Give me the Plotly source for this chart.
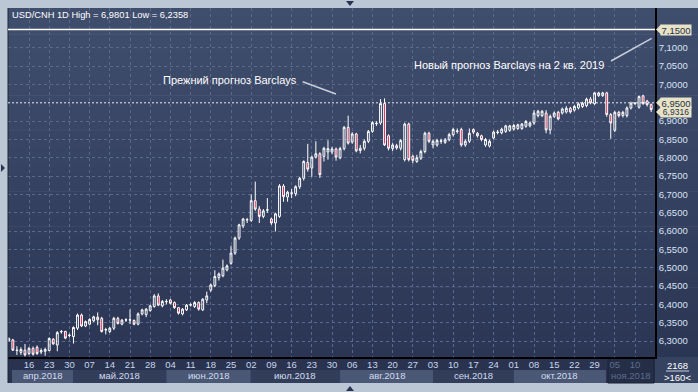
import plotly.graph_objects as go

# ---------------- data (trading-day index 0 = 2018-04-09) ----------------
opens = [6.301,6.303,6.274,6.269,6.275,6.266,6.280,6.283,6.270,6.272,
         6.274,6.305,6.289,6.325,6.326,6.315,6.312,6.335,6.371,6.341,
         6.346,6.355,6.358,6.362,6.330,6.326,6.335,6.362,6.346,6.357,
         6.357,6.356,6.346,6.374,6.372,6.383,6.394,6.423,6.396,6.407,
         6.412,6.405,6.391,6.374,6.385,6.398,6.394,6.405,6.385,6.412,
         6.439,6.451,6.473,6.478,6.494,6.512,6.540,6.581,6.614,6.630,
         6.629,6.683,6.660,6.640,6.657,6.633,6.622,6.640,6.723,6.693,
         6.703,6.702,6.721,6.744,6.787,6.772,6.802,6.811,6.804,6.816,
         6.816,6.824,6.800,6.825,6.883,6.843,6.865,6.820,6.826,6.845,
         6.872,6.893,6.895,6.948,6.860,6.825,6.833,6.826,6.795,6.892,
         6.804,6.790,6.799,6.817,6.867,6.835,6.835,6.845,6.842,6.849,
         6.863,6.872,6.877,6.835,6.845,6.877,6.867,6.860,6.835,6.832,
         6.854,6.869,6.868,6.872,6.875,6.878,6.880,6.880,6.886,6.887,
         6.895,6.915,6.915,6.922,6.876,6.913,6.924,6.922,6.925,6.935,
         6.930,6.936,6.940,6.942,6.960,6.948,6.970,6.970,6.977,6.918,
         6.875,6.924,6.915,6.915,6.936,6.948,6.938,6.969,6.955,6.945]
highs = [6.310,6.306,6.286,6.283,6.292,6.284,6.285,6.288,6.280,6.282,
         6.310,6.308,6.327,6.330,6.328,6.320,6.340,6.375,6.375,6.356,
         6.362,6.369,6.378,6.366,6.336,6.338,6.366,6.366,6.360,6.362,
         6.386,6.359,6.378,6.388,6.390,6.399,6.428,6.430,6.412,6.414,
         6.415,6.408,6.393,6.390,6.401,6.403,6.409,6.408,6.417,6.435,
         6.457,6.493,6.487,6.522,6.509,6.560,6.585,6.620,6.636,6.636,
         6.700,6.735,6.668,6.660,6.690,6.637,6.650,6.728,6.728,6.710,
         6.715,6.725,6.748,6.793,6.838,6.806,6.845,6.815,6.830,6.848,
         6.830,6.828,6.830,6.887,6.915,6.870,6.868,6.835,6.850,6.876,
         6.900,6.900,6.960,6.962,6.864,6.840,6.838,6.851,6.896,6.896,
         6.808,6.808,6.822,6.871,6.871,6.850,6.852,6.852,6.854,6.868,
         6.882,6.880,6.882,6.850,6.880,6.880,6.870,6.863,6.854,6.850,
         6.874,6.876,6.882,6.890,6.890,6.892,6.893,6.895,6.903,6.899,
         6.930,6.931,6.930,6.930,6.918,6.926,6.928,6.937,6.941,6.939,
         6.944,6.951,6.953,6.964,6.966,6.980,6.980,6.980,6.9801,6.922,
         6.928,6.928,6.928,6.940,6.953,6.952,6.970,6.972,6.958,6.948]
lows = [6.298,6.273,6.262,6.262,6.258,6.261,6.260,6.262,6.264,6.260,
        6.272,6.290,6.272,6.320,6.305,6.310,6.293,6.330,6.338,6.338,
        6.343,6.352,6.343,6.323,6.318,6.322,6.330,6.345,6.343,6.352,
        6.346,6.343,6.343,6.370,6.365,6.380,6.391,6.395,6.392,6.400,
        6.400,6.388,6.372,6.370,6.382,6.394,6.390,6.383,6.382,6.403,
        6.434,6.447,6.465,6.474,6.490,6.508,6.535,6.576,6.608,6.622,
        6.625,6.655,6.622,6.635,6.650,6.617,6.599,6.636,6.680,6.680,
        6.690,6.695,6.715,6.738,6.762,6.748,6.798,6.745,6.790,6.795,
        6.810,6.792,6.796,6.820,6.836,6.838,6.815,6.812,6.820,6.840,
        6.868,6.887,6.890,6.832,6.820,6.818,6.822,6.820,6.790,6.790,
        6.785,6.786,6.794,6.812,6.840,6.826,6.830,6.838,6.838,6.845,
        6.858,6.866,6.830,6.830,6.840,6.865,6.855,6.845,6.830,6.828,
        6.850,6.864,6.864,6.868,6.871,6.874,6.876,6.876,6.882,6.883,
        6.890,6.910,6.911,6.867,6.864,6.909,6.902,6.918,6.921,6.921,
        6.926,6.932,6.936,6.938,6.946,6.944,6.966,6.966,6.912,6.852,
        6.870,6.910,6.910,6.910,6.932,6.944,6.934,6.944,6.940,6.925]
closes = [6.307,6.275,6.275,6.277,6.262,6.280,6.264,6.266,6.274,6.277,
          6.307,6.292,6.323,6.326,6.308,6.316,6.337,6.371,6.341,6.353,
          6.359,6.366,6.365,6.326,6.331,6.335,6.362,6.348,6.357,6.358,
          6.358,6.346,6.374,6.385,6.387,6.396,6.423,6.398,6.408,6.408,
          6.403,6.391,6.376,6.387,6.398,6.399,6.405,6.387,6.414,6.423,
          6.453,6.476,6.483,6.499,6.505,6.540,6.581,6.617,6.633,6.631,
          6.683,6.660,6.640,6.655,6.658,6.622,6.647,6.723,6.694,6.706,
          6.704,6.721,6.744,6.790,6.769,6.802,6.811,6.754,6.826,6.825,
          6.824,6.802,6.825,6.883,6.840,6.865,6.819,6.826,6.845,6.872,
          6.896,6.894,6.948,6.835,6.826,6.835,6.827,6.847,6.892,6.795,
          6.793,6.800,6.817,6.867,6.845,6.845,6.847,6.846,6.849,6.863,
          6.877,6.873,6.835,6.845,6.867,6.870,6.860,6.850,6.850,6.845,
          6.870,6.870,6.878,6.887,6.887,6.888,6.890,6.892,6.899,6.895,
          6.922,6.927,6.927,6.876,6.913,6.922,6.906,6.933,6.935,6.925,
          6.940,6.947,6.949,6.960,6.950,6.977,6.977,6.977,6.918,6.895,
          6.924,6.915,6.924,6.936,6.949,6.949,6.967,6.948,6.945,6.9316]

tick_idx = list(range(5, 160, 5))
tick_text = ["16","23","30","07","14","21","28","04","11","18","25","02","09",
             "16","23","30","06","13","20","27","03","10","17","24","01","08",
             "15","22","29","05","10"]
months = ["апр.2018","май.2018","июн.2018","июл.2018","авг.2018","сен.2018","окт.2018","ноя.2018"]
month_start_idx = [-0.8, 15.9, 39, 59.9, 82, 105, 125, 148.3]
month_end_idx = [15.9, 39, 59.9, 82, 105, 125, 147.8, 160]

y_ticks = [6.30,6.35,6.40,6.45,6.50,6.55,6.60,6.65,6.70,6.75,6.80,6.85,6.90,7.00,7.05,7.10]
prev_target = 6.95
new_target = 7.15
last_close = closes[-1]

# ---------------- geometry helpers ----------------
W, H = 698, 392
L, R, T, B = 8, 655, 8, 357
PW, PH = R - L, B - T
XMIN, XMAX = -0.2, 159.95
YMIN, YMAX = 6.2564, 7.2087
FONT = "Liberation Sans, Arial"

def px(x):
    return (x - L) / PW

def py(y):
    return (B - y) / PH

def ix2px(i):
    return L + (i - XMIN) / (XMAX - XMIN) * PW

def vy(v):
    return T + (YMAX - v) / (YMAX - YMIN) * PH

def fmt(v):
    return f"{v:.4f}".replace(".", ",")

fig = go.Figure()
fig.add_trace(go.Candlestick(
    x=list(range(len(opens))), open=opens, high=highs, low=lows, close=closes,
    increasing=dict(line=dict(color="#ffffff", width=1), fillcolor="rgba(0,0,0,0)"),
    decreasing=dict(line=dict(color="#ffffff", width=1), fillcolor="#d8153e"),
    whiskerwidth=0, showlegend=False, hoverinfo="skip"))

shapes = []
# gradient background over plot + right axis area
N = 40
top_c, bot_c = (64, 78, 110), (43, 54, 84)
for k in range(N):
    t = k / (N - 1)
    c = tuple(int(round(top_c[j] + (bot_c[j] - top_c[j]) * t)) for j in range(3))
    y0 = T + k * PH / N
    y1 = T + (k + 1) * PH / N + 0.6
    shapes.append(dict(type="rect", xref="paper", yref="paper", layer="below",
                       x0=px(L), x1=px(W), y0=py(y1), y1=py(y0),
                       fillcolor="rgb(%d,%d,%d)" % c, line=dict(width=0)))
# bottom axis area
shapes.append(dict(type="rect", xref="paper", yref="paper", layer="below",
                   x0=px(L), x1=px(R), y0=py(383), y1=py(B),
                   fillcolor="#29334f", line=dict(width=0)))
# month bands
for k, (a, b) in enumerate(zip(month_start_idx, month_end_idx)):
    x0 = max(ix2px(a), 12)
    x1 = min(ix2px(b), R - 1)
    if k == len(months) - 1:
        shapes.append(dict(type="rect", xref="paper", yref="paper", layer="below",
                           x0=px(x0), x1=px(x1), y0=py(383), y1=py(358),
                           fillcolor="#252e47", line=dict(color="#1c2238", width=1)))
    else:
        col = "#4a5775" if k % 2 == 0 else "#323d5a"
        shapes.append(dict(type="rect", xref="paper", yref="paper", layer="below",
                           x0=px(x0), x1=px(x1), y0=py(383), y1=py(370),
                           fillcolor=col, line=dict(width=0)))
# bottom-right box
shapes.append(dict(type="rect", xref="paper", yref="paper", layer="below",
                   x0=px(R), x1=px(W), y0=py(383), y1=py(B),
                   fillcolor="#364360", line=dict(width=0)))
shapes.append(dict(type="line", xref="paper", yref="paper",
                   x0=px(666), x1=px(689), y0=py(371), y1=py(371),
                   line=dict(color="#c8d2e4", width=1)))
# left border of plot
shapes.append(dict(type="line", xref="paper", yref="paper",
                   x0=px(L), x1=px(L), y0=py(383), y1=py(T),
                   line=dict(color="#1e2438", width=1)))
# frame triangles
for pts in [[(346, 1), (354, 1), (350, 6)], [(346, 391), (354, 391), (350, 386)], [(1, 164), (1, 172), (5, 168)]]:
    path = "M " + " L ".join("%.5f,%.5f" % (px(a), py(b)) for a, b in pts) + " Z"
    shapes.append(dict(type="path", xref="paper", yref="paper", path=path,
                       fillcolor="#2a3350", line=dict(width=0)))

# target lines
shapes.append(dict(type="line", xref="paper", yref="y", x0=0, x1=1, y0=new_target, y1=new_target,
                   line=dict(color="#ffffff", width=1.5)))
shapes.append(dict(type="line", xref="paper", yref="y", x0=0, x1=1, y0=prev_target, y1=prev_target,
                   line=dict(color="#e8ecf4", width=1, dash="2px,2px")))
# annotation pointer lines
shapes.append(dict(type="line", xref="x", yref="y", x0=72.75, y0=7.0076, x1=80.99, y1=6.974,
                   line=dict(color="#c9ced8", width=1.5)))
shapes.append(dict(type="line", xref="x", yref="y", x0=149.06, y0=7.0641, x1=159.13, y1=7.1260,
                   line=dict(color="#c9ced8", width=1.5)))

annotations = []
# price label boxes (beige), last close drawn first and slightly lower so texts don't collide
for v, txt, yc, fs in [(last_close, fmt(last_close), vy(last_close) + 2.5, 8.5),
                       (prev_target, fmt(prev_target), vy(prev_target), 9.5),
                       (new_target, fmt(new_target), vy(new_target), 9.5)]:
    shapes.append(dict(type="path", xref="paper", yref="paper",
                       path="M %.5f,%.5f L %.5f,%.5f L %.5f,%.5f Z" % (
                           px(656), py(yc), px(661), py(yc - 5), px(661), py(yc + 5)),
                       fillcolor="#e6e3c9", line=dict(width=0), layer="above"))
    annotations.append(dict(xref="paper", yref="paper", x=px(660), y=py(yc), xanchor="left", yanchor="middle",
                            text=txt, showarrow=False, bgcolor="#e6e3c9", borderpad=0, width=30, height=10,
                            font=dict(family=FONT, size=fs, color="#2a3040")))

annotations.append(dict(xref="paper", yref="paper", x=px(10), y=py(15), xanchor="left", yanchor="middle",
                        text="USD/CNH 1D High = 6,9801 Low = 6,2358", showarrow=False,
                        font=dict(family=FONT, size=9.3, color="#ffffff")))
annotations.append(dict(xref="x", yref="y", x=54.75, y=7.0122, text="Прежний прогноз Barclays",
                        showarrow=False, xanchor="center", yanchor="middle",
                        font=dict(family=FONT, size=11, color="#ffffff")))
annotations.append(dict(xref="x", yref="y", x=123.8, y=7.0532, text="Новый прогноз Barclays на 2 кв. 2019",
                        showarrow=False, xanchor="center", yanchor="middle",
                        font=dict(family=FONT, size=11, color="#ffffff")))
for k, (m, a, b) in enumerate(zip(months, month_start_idx, month_end_idx)):
    x0 = max(ix2px(a), 12); x1 = min(ix2px(b), R - 1)
    col = "#5f6d8c" if k == len(months) - 1 else "#d2dcee"
    annotations.append(dict(xref="paper", yref="paper", x=px((x0 + x1) / 2), y=py(375.5),
                            text=m, showarrow=False, xanchor="center", yanchor="middle",
                            font=dict(family=FONT, size=9.5, color=col)))
annotations.append(dict(xref="paper", yref="paper", x=px(677), y=py(365), text="2168", showarrow=False,
                        xanchor="center", yanchor="middle",
                        font=dict(family=FONT, size=9.5, color="#ffffff")))
annotations.append(dict(xref="paper", yref="paper", x=px(677), y=py(377), text="&gt;160&lt;", showarrow=False,
                        xanchor="center", yanchor="middle",
                        font=dict(family=FONT, size=9.5, color="#ffffff")))

tick_labels = [t if i < len(tick_text) - 2 else '<span style="color:#5f6d8c">%s</span>' % t
               for i, t in enumerate(tick_text)]

fig.update_layout(
    width=W, height=H,
    margin=dict(l=L, r=W - R, t=T, b=H - B),
    paper_bgcolor="#bcc7d5", plot_bgcolor="rgba(0,0,0,0)",
    shapes=shapes, annotations=annotations, boxgap=0.35,
    xaxis=dict(range=[XMIN, XMAX], rangeslider=dict(visible=False), tickmode="array",
               tickvals=tick_idx, ticktext=tick_labels, showgrid=True, gridcolor="#5a6889",
               griddash="3px,3px", gridwidth=1, zeroline=False, showline=True, linecolor="#000000",
               linewidth=1.5, ticks="", automargin=False, ticklabelstandoff=-2,
               tickfont=dict(family=FONT, size=9.5, color="#c8d5ec")),
    yaxis=dict(range=[YMIN, YMAX], side="right", tickmode="array", tickvals=y_ticks,
               ticktext=[fmt(v) for v in y_ticks], showgrid=True, gridcolor="#5a6889",
               griddash="3px,3px", gridwidth=1, zeroline=False, showline=True, linecolor="#000000",
               linewidth=1.5, ticks="", automargin=False,
               tickfont=dict(family=FONT, size=9.5, color="#d8e3f4")),
    font=dict(family=FONT),
)

fig.write_html("out.html", config={"displayModeBar": False},
               post_script="document.body.style.margin='0px';document.body.style.padding='0px';")
